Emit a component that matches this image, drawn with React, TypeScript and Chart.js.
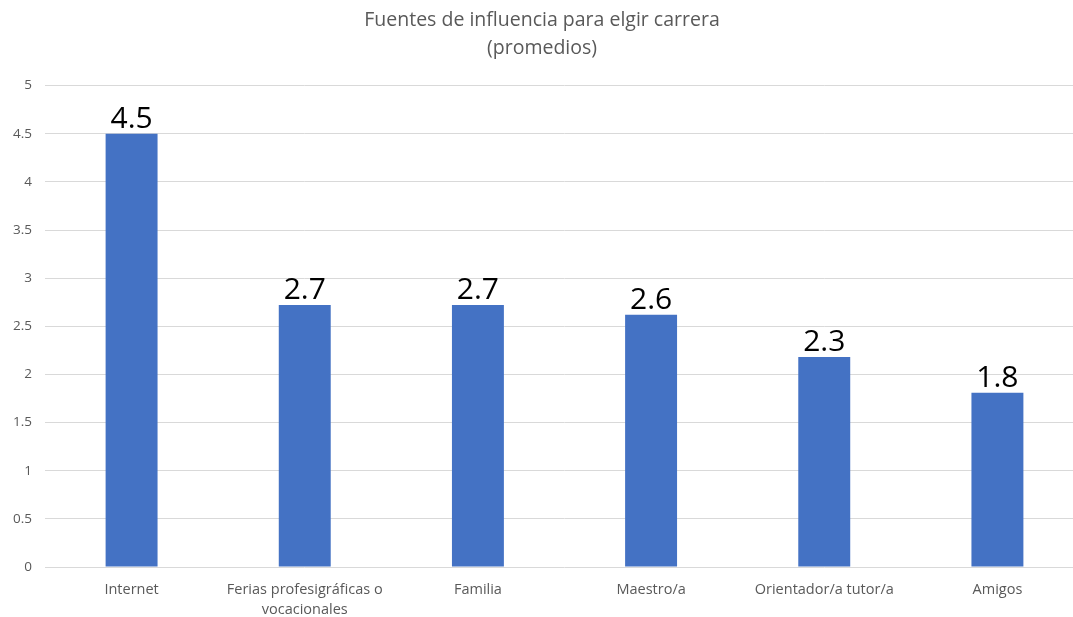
import React, { useEffect, useRef } from "react";
import { Chart, registerables } from "chart.js";

Chart.register(...registerables);

const categories: (string | string[])[] = [
  "Internet",
  ["Ferias profesigráficas o", "vocacionales"],
  "Familia",
  "Maestro/a",
  "Orientador/a tutor/a",
  "Amigos",
];
const values = [4.5, 2.72, 2.72, 2.62, 2.18, 1.81];
const valueLabels = ["4.5", "2.7", "2.7", "2.6", "2.3", "1.8"];
const titleLines = ["Fuentes de influencia para elgir carrera", "(promedios)"];

const FONT = "'Open Sans', 'Noto Sans', sans-serif";

const labelPlugin = {
  id: "valueLabels",
  afterDatasetsDraw(chart: any) {
    const ctx = chart.ctx;
    const meta = chart.getDatasetMeta(0);
    ctx.save();
    ctx.font = `30px ${FONT}`;
    ctx.fillStyle = "#000000";
    ctx.textAlign = "center";
    ctx.textBaseline = "alphabetic";
    meta.data.forEach((bar: any, i: number) => {
      ctx.fillText(valueLabels[i], bar.x, bar.y - 6);
    });
    ctx.restore();
  },
};

export default function App() {
  const ref = useRef<HTMLCanvasElement | null>(null);
  useEffect(() => {
    document.body.style.margin = "0";
    document.body.style.overflow = "hidden";
    if (!ref.current) return;
    const chart = new Chart(ref.current, {
      type: "bar",
      data: {
        labels: categories,
        datasets: [
          {
            data: values,
            backgroundColor: "#4472C4",
            borderWidth: 0,
            barPercentage: 0.3,
            categoryPercentage: 1,
          },
        ],
      },
      options: {
        animation: false,
        responsive: false,
        maintainAspectRatio: false,
        layout: { padding: { top: 7, bottom: 0, left: 0, right: 6 } },
        plugins: {
          legend: { display: false },
          tooltip: { enabled: false },
          title: {
            display: true,
            text: titleLines,
            color: "#595959",
            font: { family: FONT, size: 19.5, weight: "normal", lineHeight: 1.4 },
            padding: { top: 0, bottom: 24 },
          },
        },
        scales: {
          x: {
            grid: { display: false, drawTicks: false },
            border: { display: false },
            ticks: {
              color: "#595959",
              font: { family: FONT, size: 14.5, lineHeight: 1.38 },
              padding: 13,
              maxRotation: 0,
              autoSkip: false,
            },
            afterFit(scale: any) {
              scale.height = 50;
            },
          },
          y: {
            min: 0,
            max: 5,
            border: { display: false },
            grid: { color: "#D9D9D9", lineWidth: 1, drawTicks: false },
            ticks: {
              stepSize: 0.5,
              color: "#595959",
              font: { family: FONT, size: 13.5 },
              padding: 13,
              callback: (v: any) => String(v),
            },
            afterFit(scale: any) {
              scale.width = 45;
            },
          },
        },
      },
      plugins: [labelPlugin],
    });
    return () => chart.destroy();
  }, []);
  return <canvas ref={ref} width={1090} height={617} style={{ display: "block" }} />;
}
